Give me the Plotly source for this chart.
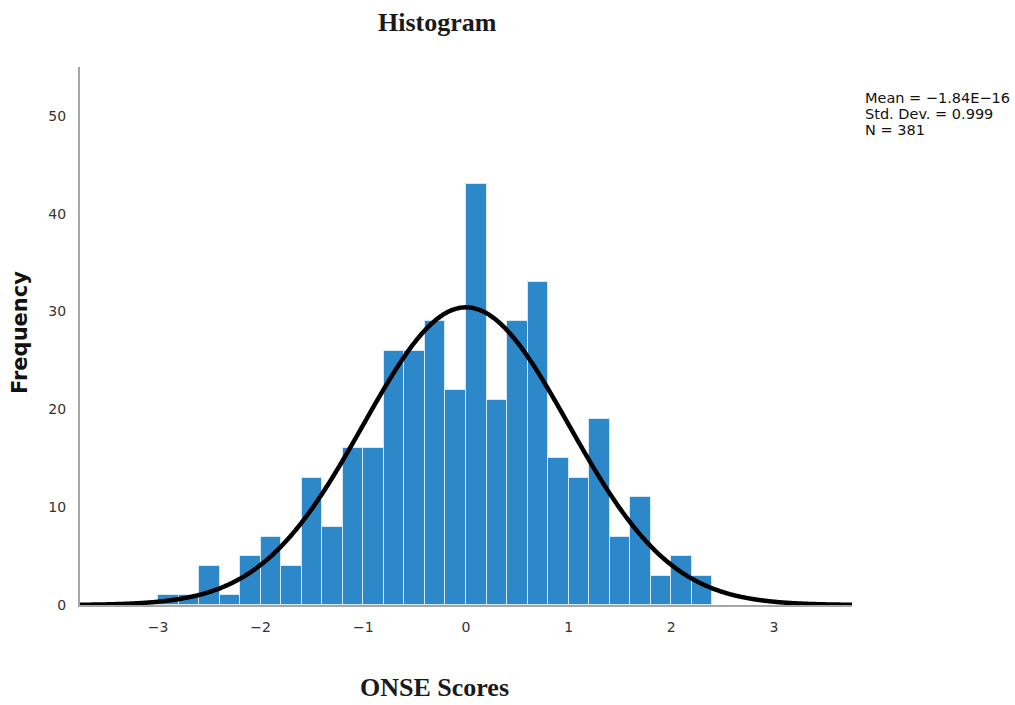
import numpy as np
import plotly.graph_objects as go

# Histogram data (bin width 0.2 starting at -3.0)
bin_left = [-3.0, -2.8, -2.6, -2.4, -2.2, -2.0, -1.8, -1.6, -1.4, -1.2, -1.0, -0.8, -0.6,
            -0.4, -0.2, 0.0, 0.2, 0.4, 0.6, 0.8, 1.0, 1.2, 1.4, 1.6, 1.8, 2.0, 2.2]
counts = [1, 1, 4, 1, 5, 7, 4, 13, 8, 16, 16, 26, 26, 29, 22, 43, 21, 29, 33, 15, 13, 19, 7, 11, 3, 5, 3]
bin_width = 0.2
mean = -1.84e-16
std = 0.999
n = 381
x_ticks = [-3, -2, -1, 0, 1, 2, 3]
y_ticks = [0, 10, 20, 30, 40, 50]
stats_lines = ["Mean = −1.84E−16", "Std. Dev. = 0.999", "N = 381"]

centers = [b + bin_width / 2 for b in bin_left]

xs = np.linspace(-3.76, 3.76, 600)
ys = n * bin_width * np.exp(-0.5 * ((xs - mean) / std) ** 2) / (std * np.sqrt(2 * np.pi))

fig = go.Figure()
fig.add_trace(go.Bar(
    x=centers, y=counts, width=bin_width,
    marker=dict(color="#2D88C9", line=dict(color="#D6E8F5", width=1)),
    hoverinfo="x+y", showlegend=False,
))
fig.add_trace(go.Scatter(
    x=xs, y=ys, mode="lines",
    line=dict(color="black", width=4.5, shape="spline"), showlegend=False, hoverinfo="skip",
))

W, H = 1015, 705
l, r, t, b = 80, 163, 67, 100
pw, ph = W - l - r, H - t - b


def px(xp):
    return (xp - l) / pw


def py(yp):
    return (H - b - yp) / ph


axis_font = dict(family="DejaVu Sans", size=14, color="#333333")
ann = [
    dict(text="<b>Histogram</b>", x=px(437), y=py(22), xanchor="center", yanchor="middle",
         font=dict(family="Liberation Serif", size=26, color="#1a1a1a")),
    dict(text="<b>ONSE Scores</b>", x=px(434), y=py(688), xanchor="center", yanchor="middle",
         font=dict(family="Liberation Serif", size=26, color="#1a1a1a")),
    dict(text="<b>Frequency</b>", x=px(20), y=py(333), xanchor="center", yanchor="middle",
         textangle=-90, font=dict(family="DejaVu Sans", size=21, color="#111111")),
]
for i, s in enumerate(stats_lines):
    ann.append(dict(text=s, x=px(863), y=py(98 + 16 * i), xanchor="left", yanchor="middle",
                    font=dict(family="DejaVu Sans", size=14.5, color="#111111")))
for a in ann:
    a.update(xref="paper", yref="paper", showarrow=False)

fig.update_layout(
    width=W, height=H,
    margin=dict(l=l, r=r, t=t, b=b, autoexpand=False),
    plot_bgcolor="white", paper_bgcolor="white",
    bargap=0,
    xaxis=dict(range=[-3.76, 3.76], tickvals=x_ticks, showgrid=False, zeroline=False,
               showline=True, linecolor="#A6A6A6", linewidth=2, ticks="",
               tickfont=axis_font, ticklabelstandoff=8),
    yaxis=dict(range=[0, 55], tickvals=y_ticks, showgrid=False, zeroline=False,
               showline=True, linecolor="#A6A6A6", linewidth=2, ticks="",
               tickfont=axis_font, ticklabelstandoff=9),
    annotations=ann,
)

fig.write_html("out.html", config={"displayModeBar": False},
               post_script="document.body.style.margin='0';document.body.style.overflow='hidden';")
